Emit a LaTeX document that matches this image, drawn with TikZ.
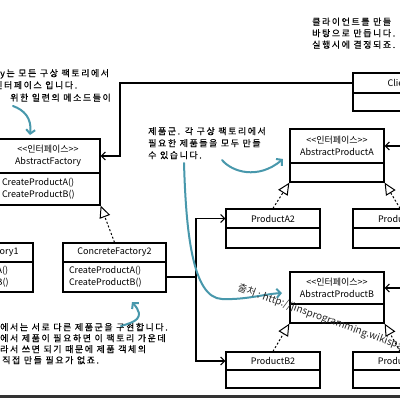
\documentclass[tikz,border=0pt]{standalone}
\usepackage{fontspec}
\newfontfamily\kr{Noto Sans CJK KR}
\newfontfamily\hand[LetterSpace=17,FakeBold=0.4]{Noto Sans CJK KR}
\usetikzlibrary{arrows.meta,calc}
\definecolor{hlteal}{RGB}{72,152,172}
\begin{document}
\begin{tikzpicture}[x=1pt,y=-1pt,
  hdr/.style={draw, fill=white, line width=1.3pt, inner sep=0pt, align=center, font=\kr\fontsize{9}{12}\selectfont},
  bdy/.style={draw, fill=white, line width=1.3pt, inner xsep=6pt, inner ysep=0pt, align=left, font=\kr\fontsize{9}{12}\selectfont},
  note/.style={anchor=base west, inner sep=0pt, font=\hand\fontsize{9}{11}\selectfont},
  conn/.style={line width=1.1pt, -{Straight Barb[length=4pt,width=8pt]}},
  plain/.style={line width=1.1pt},
  real/.style={line width=1pt, dash pattern=on 2pt off 2pt, -{Triangle[open,length=12pt,width=11pt,fill=white]}},
  hl/.style={hlteal, line width=2pt, line cap=round, -{Straight Barb[length=4pt,width=9pt]}}]
\useasboundingbox (0,0) rectangle (400,400);
\clip (0,0) rectangle (400,400);
\fill[white] (0,0) rectangle (400,400);

% AbstractFactory
\node[hdr, minimum width=104pt, minimum height=34pt] (afh) at (48,156) {<<인터페이스>>\\AbstractFactory};
\node[bdy, text width=92pt, minimum height=32pt] (afb) at (48,189) {CreateProductA()\\CreateProductB()};
% ConcreteFactory1
\node[hdr, minimum width=103pt, minimum height=19pt] (cf1h) at (-18.5,252.5) {ConcreteFactory1};
\node[bdy, text width=91pt, minimum height=30pt] (cf1b) at (-18.5,277) {CreateProductA()\\CreateProductB()};
% ConcreteFactory2
\node[hdr, minimum width=103pt, minimum height=19pt] (cf2h) at (114.5,252.5) {ConcreteFactory2};
\node[bdy, text width=91pt, minimum height=30pt] (cf2b) at (114.5,277) {CreateProductA()\\CreateProductB()};
% Client
\node[hdr, minimum width=94pt, minimum height=20pt] (clh) at (400,83) {Client};
\node[bdy, minimum width=94pt, minimum height=18pt] (clb) at (400,102) {};
% AbstractProductA
\node[hdr, minimum width=94pt, minimum height=34pt] (apah) at (337,146) {<<인터페이스>>\\AbstractProductA};
\node[bdy, minimum width=94pt, minimum height=19pt] (apab) at (337,172.5) {};
% AbstractProductB
\node[hdr, minimum width=94pt, minimum height=32pt] (apbh) at (337,288) {<<인터페이스>>\\AbstractProductB};
\node[bdy, minimum width=94pt, minimum height=19pt] (apbb) at (337,313.5) {};
% Products
\node[hdr, minimum width=94pt, minimum height=19pt] (pa2h) at (273,218.5) {ProductA2};
\node[bdy, minimum width=94pt, minimum height=20pt] (pa2b) at (273,238) {};
\node[hdr, minimum width=94pt, minimum height=19pt] (pa1h) at (400,218.5) {ProductA1};
\node[bdy, minimum width=94pt, minimum height=20pt] (pa1b) at (400,238) {};
\node[hdr, minimum width=94pt, minimum height=18pt] (pb2h) at (273,361) {ProductB2};
\node[bdy, minimum width=94pt, minimum height=18pt] (pb2b) at (273,379) {};
\node[hdr, minimum width=94pt, minimum height=18pt] (pb1h) at (400,361) {ProductB1};
\node[bdy, minimum width=94pt, minimum height=18pt] (pb1b) at (400,379) {};

% associations
\coordinate (c1) at (120,83);
\draw[conn] (clh.west) -- (c1) |- (afh.east);
\coordinate (c2) at (196,277);
\draw[plain] (cf2b.east) -- (c2);
\draw[conn] (c2) |- (pa2h.west);
\draw[conn] (c2) |- (pb2h.west);
\coordinate (e1) at (415,146);
\coordinate (e2) at (415,288);
\draw[conn] (e1) -- (apah.east);
\draw[conn] (e2) -- (apbh.east);

% realizations
\draw[real] (cf2h.north) -- (afb.south east);
\draw[real] (cf1h.north) -- (afb.south west);
\draw[real] (pa2h.north) -- (apab.south west);
\draw[real] (pa1h.north) -- (apab.south east);
\draw[real] (pb2h.north) -- (apbb.south west);
\draw[real] (pb1h.north) -- (apbb.south east);

% notes
\node[note] (n1a) at (312,25) {클라이언트를 만들};
\node[note] (n1b) at (312,36.5) {바탕으로 만듭니다.};
\node[note] (n1c) at (312,48) {실행시에 결정되죠.};
\node[note] (n2a) at (0,76.5) {y는 모든 구상 팩토리에서};
\node[note] (n2b) at (-6,88.5) {인터페이스 입니다.};
\node[note] (n2c) at (10,101) {위한 일련의 메소드들이};
\node[note] (n3a) at (148,134.5) {제품군. 각 구상 팩토리에서};
\node[note] (n3b) at (148,146.5) {필요한 제품들을 모두 만들};
\node[note] (n3c) at (148,158.5) {수 있습니다.};
\node[note] (n4a) at (0,330.5) {에서는 서로 다른 제품군을 구현합니다.};
\node[note] (n4b) at (0,341.5) {에서 제품이 필요하면 이 팩토리 가운데};
\node[note] (n4c) at (0,352.5) {라서 쓰면 되기 때문에 제품 객체의};
\node[note] (n4d) at (2,363.5) {직접 만들 필요가 없죠.};

% highlight arrows
\draw[hl] (13,106) .. controls (24,110) and (32,118) .. (30,135);
\draw[hl] (222,160) .. controls (232,172) and (258,180) .. (283,159);
\draw[hl] (184,163) .. controls (186,230) and (192,298) .. (222,299) .. controls (245,300) and (265,294) .. (282,293);
\draw[hl] (121,326) .. controls (135,322) and (146,318) .. (132,302);

% watermark
\node[anchor=base west, inner sep=0pt, rotate=-20, text=black!85, font=\kr\fontsize{10}{12}\selectfont] (wm) at (237,290) {출처 : http://jinsprogramming.wikispaces.com};

% bottom edge
\draw[line width=3pt, black!80] (-5,396.5) -- (405,396.5);
\end{tikzpicture}
\end{document}
